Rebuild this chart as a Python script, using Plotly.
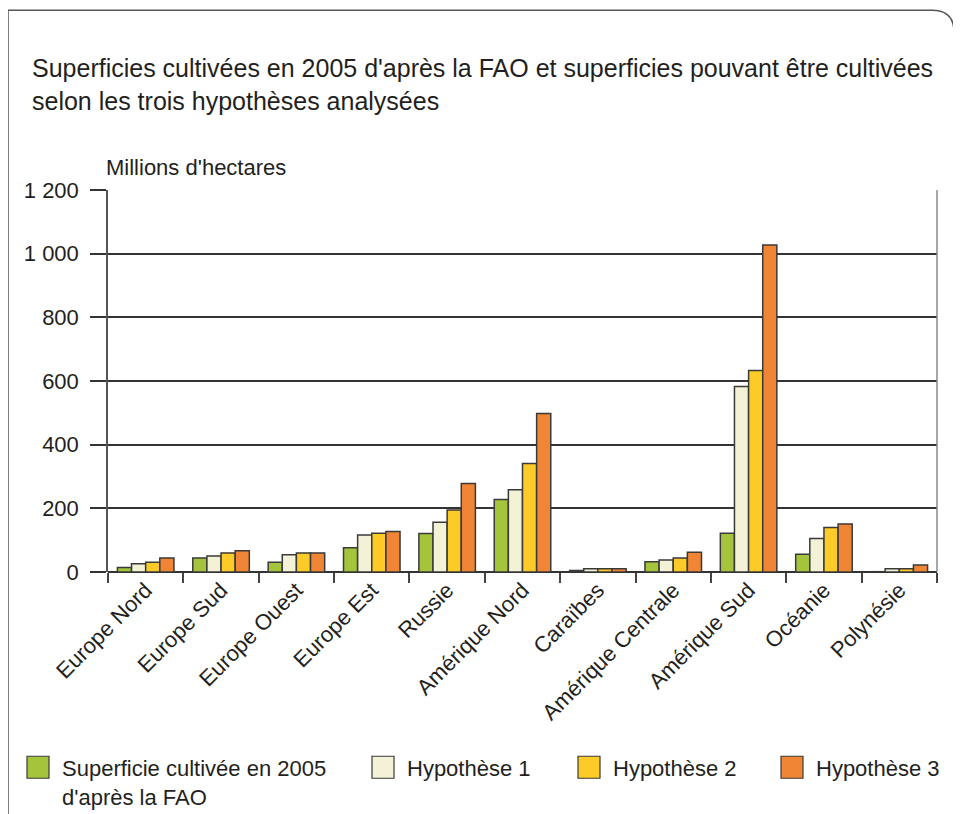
import plotly.graph_objects as go

categories = ["Europe Nord", "Europe Sud", "Europe Ouest", "Europe Est", "Russie",
              "Amérique Nord", "Caraïbes", "Amérique Centrale", "Amérique Sud",
              "Océanie", "Polynésie"]
fao_2005 = [14, 44, 31, 76, 121, 228, 5, 32, 122, 56, 1]
hyp1 = [26, 50, 54, 116, 156, 258, 10, 38, 583, 105, 10]
hyp2 = [31, 60, 60, 122, 195, 341, 10, 44, 633, 140, 10]
hyp3 = [44, 67, 60, 127, 278, 498, 10, 62, 1027, 151, 22]

series_names = ["Superficie cultivée en 2005<br>d'après la FAO", "Hypothèse 1",
                "Hypothèse 2", "Hypothèse 3"]
series_values = [fao_2005, hyp1, hyp2, hyp3]
colors = ["#a4c43c", "#f4f2d6", "#fdcb27", "#f08535"]

y_ticks = [0, 200, 400, 600, 800, 1000, 1200]

title_text = ("Superficies cultivées en 2005 d'après la FAO et superficies pouvant être cultivées"
              "<br>selon les trois hypothèses analysées")
y_title = "Millions d'hectares"

# page body has an 8px margin: lay out in screen pixels and shift
OFF = 8
W, H = 961 - OFF, 814 - OFF
PLOT_L, PLOT_R, PLOT_T, PLOT_B = 108, 937, 190, 572.5   # screen pixels
ML, MT = PLOT_L - OFF, PLOT_T - OFF
MR = W - (PLOT_R - OFF)
MB = H - (PLOT_B - OFF)
PW, PH = PLOT_R - PLOT_L, PLOT_B - PLOT_T

def px(x):
    return (x - PLOT_L) / PW

def py(y):
    return (PLOT_B - y) / PH

FONT = "Liberation Sans, Arial, sans-serif"
TXT = "#231f20"

fig = go.Figure()
for name, vals, col in zip(series_names, series_values, colors):
    fig.add_trace(go.Bar(
        x=categories, y=vals, name=name.replace("<br>", " "),
        marker=dict(color=col, line=dict(color="#3a3a3a", width=1.5)),
        showlegend=False,
    ))

# legend (drawn manually for large swatches)
leg_sq_x = [27, 372, 578, 781]
leg_y = 768
sq = 22
for name, col, lx in zip(series_names, colors, leg_sq_x):
    fig.add_shape(type="rect", xref="paper", yref="paper",
                  x0=px(lx), x1=px(lx + sq), y0=py(leg_y - sq / 2), y1=py(leg_y + sq / 2),
                  fillcolor=col, line=dict(color="#3a3a3a", width=1.2), layer="above")
    fig.add_annotation(xref="paper", yref="paper", x=px(lx + sq + 11), y=py(leg_y - 13),
                       xanchor="left", yanchor="top", align="left", text=name,
                       showarrow=False, font=dict(family=FONT, size=22, color=TXT))

# outer frame with rounded top-right corner
fl, ft, fr, fb, r = 8, 10, 954, 840, 22
path = (f"M {px(fl)},{py(fb)} L {px(fl)},{py(ft)} L {px(fr - r)},{py(ft)} "
        f"Q {px(fr)},{py(ft)} {px(fr)},{py(ft + r)} L {px(fr)},{py(fb)}")
fig.add_shape(type="path", xref="paper", yref="paper", path=path,
              line=dict(color="#555555", width=1.5))

# light right border of plot area
fig.add_shape(type="line", xref="paper", yref="paper", x0=1, x1=1, y0=0, y1=1,
              line=dict(color="#8a8a8a", width=1.5))

fig.add_annotation(xref="paper", yref="paper", x=px(104), y=py(167),
                   xanchor="left", yanchor="middle", text=y_title, showarrow=False,
                   font=dict(family=FONT, size=22, color=TXT))

fig.update_layout(
    width=W, height=H,
    margin=dict(l=ML, r=MR, t=MT, b=MB, pad=0),
    paper_bgcolor="white", plot_bgcolor="white",
    barmode="group", bargap=0.25, bargroupgap=0,
    separators=", ",
    font=dict(family=FONT, size=22, color=TXT),
    title=dict(text=title_text, xref="container", yref="container",
               x=(32 - OFF) / W, xanchor="left", y=1 - (77 - OFF) / H, yanchor="middle",
               font=dict(family=FONT, size=25, color=TXT)),
    xaxis=dict(type="category", tickson="boundaries", ticks="outside", ticklen=10,
               tickcolor="#444", tickwidth=1.5, tickangle=-45,
               showline=False, showgrid=False,
               tickfont=dict(family=FONT, size=22, color=TXT)),
    yaxis=dict(range=[0, 1200], tickvals=y_ticks, tickformat=",d",
               ticks="outside", ticklen=16, tickcolor="#333", tickwidth=1.5,
               showgrid=True, gridcolor="#333", gridwidth=1.5,
               zeroline=True, zerolinecolor="#333", zerolinewidth=1.5,
               showline=True, linecolor="#555", linewidth=1.5, mirror=False,
               ticklabelstandoff=7,
               tickfont=dict(family=FONT, size=22, color=TXT)),
)
fig.write_html("out.html")
